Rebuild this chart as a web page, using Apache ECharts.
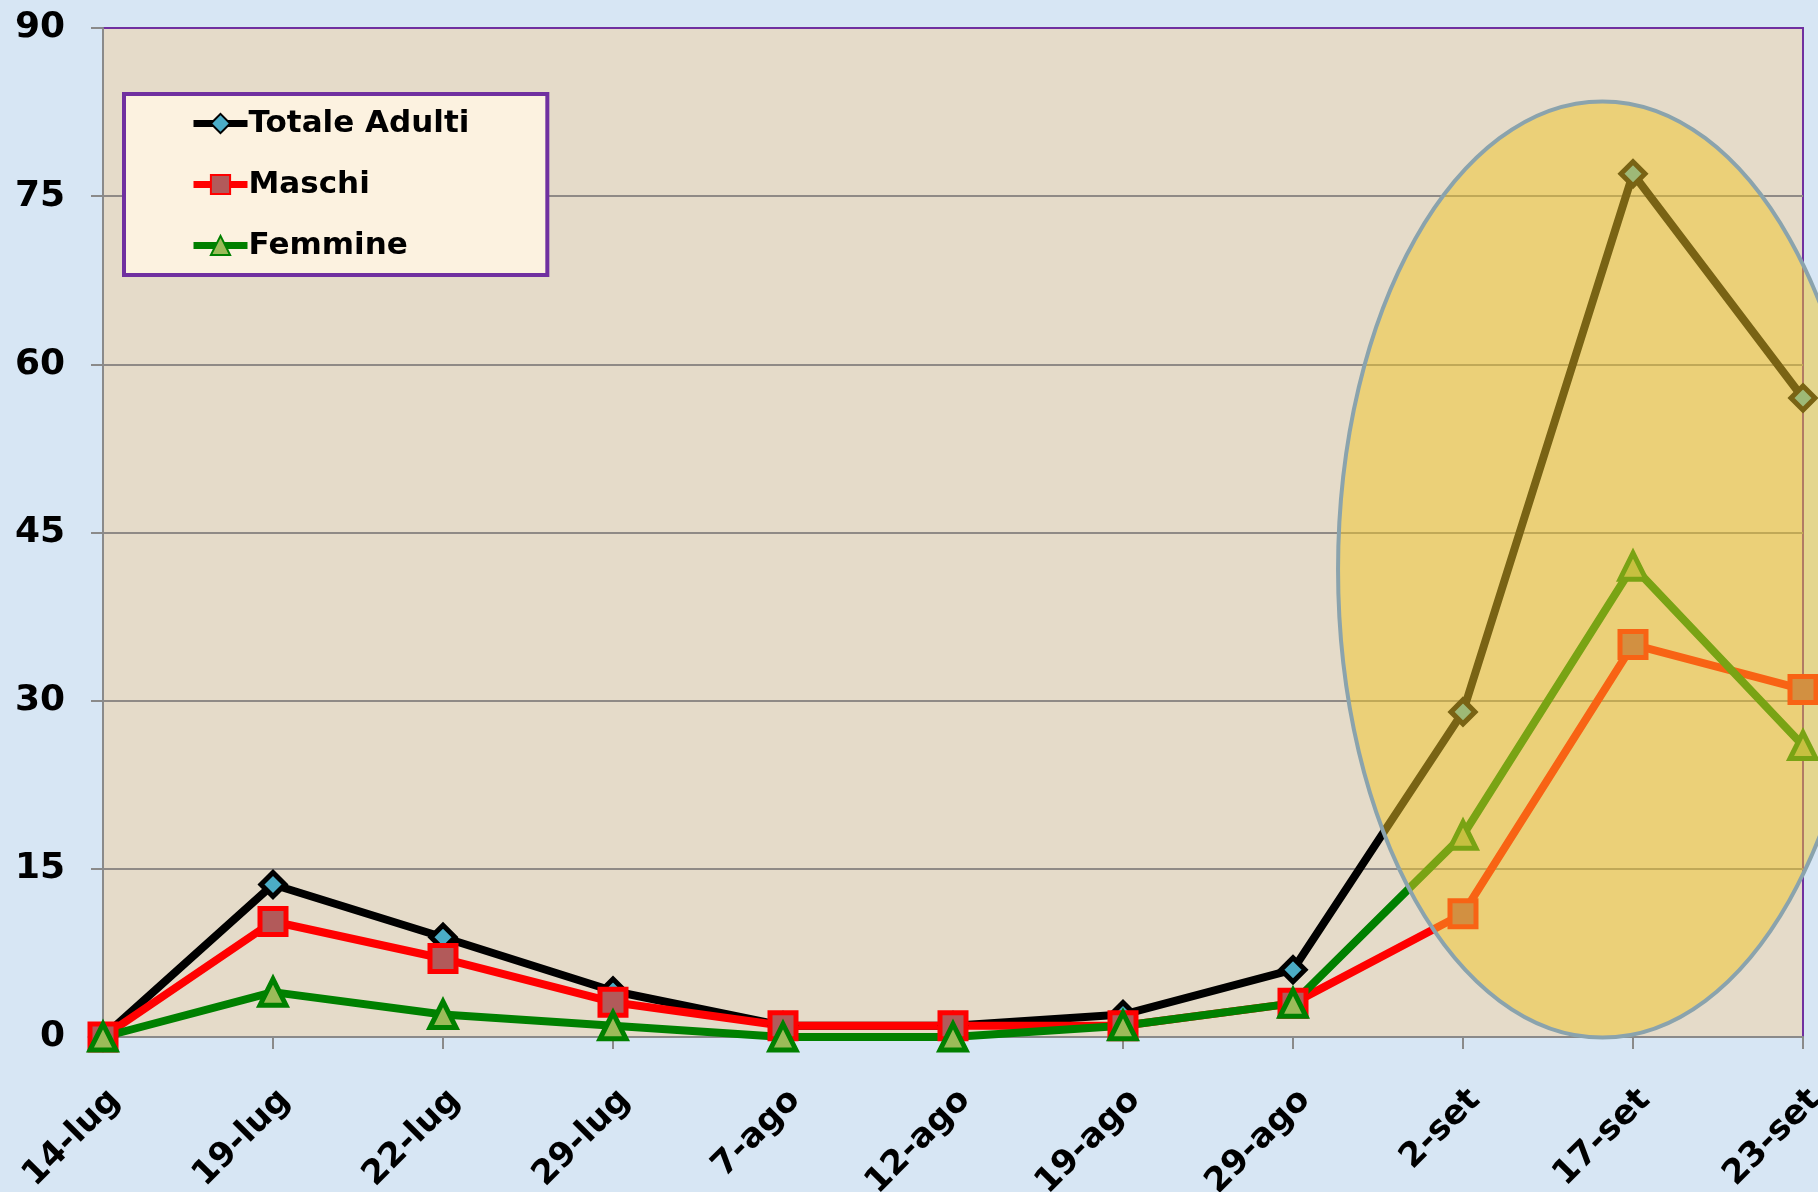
<!DOCTYPE html>
<html>
<head>
<meta charset="utf-8">
<script src="https://cdn.jsdelivr.net/npm/echarts@6/dist/echarts.min.js"></script>
<style>
html,body{margin:0;padding:0;background:#d7e6f4;}
#c{width:1818px;height:1192px;}
</style>
</head>
<body>
<div id="c"></div>
<script>
// ---- data ----
const categories = ['14-lug','19-lug','22-lug','29-lug','7-ago','12-ago','19-ago','29-ago','2-set','17-set','23-set'];
const totaleAdulti = [0, 13.6, 8.9, 4.1, 1, 1, 2, 6, 29, 77, 57];
const maschi       = [0, 10.3, 7, 3.1, 1, 1, 1, 3, 11, 35, 31];
const femmine      = [0, 4, 2, 1, 0, 0, 1, 3, 18, 42, 26];
const seriesNames  = ['Totale Adulti', 'Maschi', 'Femmine'];
const yMin = 0, yMax = 90, yStep = 15;

// highlight ellipse in data units (category index / value)
const highlight = { centerIndex: 8.82, centerValue: 41.7, radiusIndex: 1.555, radiusValue: 41.75 };

const FONT = 'DejaVu Sans';
const chart = echarts.init(document.getElementById('c'));

function lineSeries(name, data, lineColor, symbol, size, fill) {
  return {
    name: name, type: 'line', data: data,
    symbol: symbol, symbolSize: size,
    lineStyle: { color: lineColor, width: 8 },
    itemStyle: { color: fill, borderColor: lineColor, borderWidth: 5 },
    emphasis: { disabled: true },
    animation: false
  };
}

chart.setOption({
  backgroundColor: '#d7e6f4',
  animation: false,
  grid: {
    left: 103, right: 15, top: 28, bottom: 155,
    outerBoundsMode: 'none', containLabel: false,
    show: true, backgroundColor: '#e5dbc9',
    borderColor: '#7030a0', borderWidth: 2
  },
  legend: {
    orient: 'vertical', left: 124, top: 94,
    data: seriesNames,
    itemWidth: 54, itemHeight: 24, itemGap: 30,
    padding: [14, 78, 14, 66],
    backgroundColor: '#fcf2e0',
    borderColor: '#7030a0', borderWidth: 4, borderRadius: 0,
    lineStyle: { width: 7 },
    textStyle: { fontFamily: FONT, fontWeight: 'bold', fontSize: 31, color: '#000', padding: [0, 0, 0, -4] }
  },
  xAxis: {
    type: 'category', data: categories, boundaryGap: false,
    axisLine: { lineStyle: { color: '#8a8a8a', width: 2 } },
    axisTick: { show: true, length: 12, lineStyle: { color: '#8a8a8a', width: 2 } },
    axisLabel: {
      rotate: 45, margin: 46, interval: 0, verticalAlign: 'top',
      fontFamily: FONT, fontWeight: 'bold', fontSize: 34, color: '#000'
    },
    splitLine: { show: false }
  },
  yAxis: {
    type: 'value', min: yMin, max: yMax, interval: yStep,
    axisLine: { show: true, lineStyle: { color: '#8a8a8a', width: 2 } },
    axisTick: { show: true, length: 12, lineStyle: { color: '#8a8a8a', width: 2 } },
    axisLabel: { margin: 38, fontFamily: FONT, fontWeight: 'bold', fontSize: 36, color: '#000' },
    splitLine: { showMaxLine: false, lineStyle: { color: '#8f8a86', width: 2 } }
  },
  series: [
    lineSeries(seriesNames[0], totaleAdulti, '#000000', 'diamond', 24, '#4bacc6'),
    lineSeries(seriesNames[1], maschi, '#ff0000', 'rect', 26, '#b25a5a'),
    lineSeries(seriesNames[2], femmine, '#008000', 'triangle', 26, '#9bbb59')
  ]
});

// place highlight ellipse from axis scales
function px(idx, val) {
  const i0 = Math.floor(idx), i1 = i0 + 1;
  const p0 = chart.convertToPixel({ gridIndex: 0 }, [i0, val]);
  const p1 = chart.convertToPixel({ gridIndex: 0 }, [i1, val]);
  const t = idx - i0;
  return [p0[0] + (p1[0] - p0[0]) * t, p0[1]];
}
const c = px(highlight.centerIndex, highlight.centerValue);
const xr = px(highlight.centerIndex + highlight.radiusIndex, highlight.centerValue);
const yr = chart.convertToPixel({ gridIndex: 0 }, [0, highlight.centerValue + highlight.radiusValue]);
chart.setOption({
  graphic: [{
    type: 'ellipse', z: 100, silent: true,
    shape: { cx: c[0], cy: c[1], rx: xr[0] - c[0], ry: c[1] - yr[1] },
    style: { fill: 'rgba(242,198,40,0.5)', stroke: '#8aa3ad', lineWidth: 4 }
  }]
});
</script>
</body>
</html>
